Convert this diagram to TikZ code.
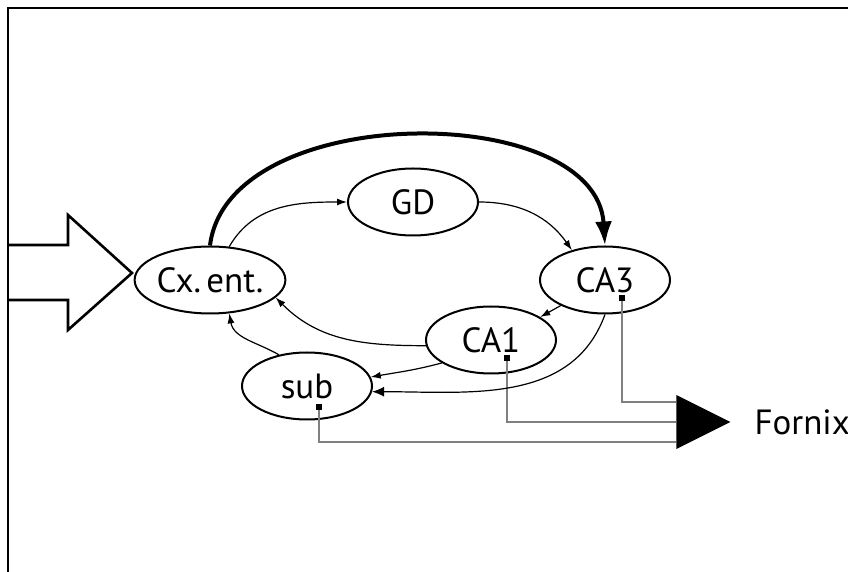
\documentclass[tikz,border=0pt]{standalone}
\usepackage{fontspec}
\setmainfont{PT Sans}
\usepackage{tikz}
\usetikzlibrary{shapes.geometric,arrows.meta,positioning}
\tikzstyle{area}=  [draw,
ellipse,
line width=1pt,
minimum width=65pt,
minimum height=33.5pt,
inner sep=0,
]
\tikzstyle{link}=  [line width=0.6pt,
-{Latex[length=5pt,width=3.5pt]},
]
\tikzstyle{outdot}=[fill,
rectangle,
minimum size=2.8pt,
inner sep=0,
]
\tikzstyle{tract}= [draw=gray,
line width=1pt,
]

\begin{document}
\begin{tikzpicture}[x=0.5pt, y=-0.5pt, font=\fontsize{17.5}{20}\selectfont]
        \useasboundingbox (0,0) rectangle (848,572);
        \draw[line width=1.3pt, fill=white] (8,245) -- (68,245) -- (68,215) -- (132,273)
        -- (68,330) -- (68,300) -- (8,300);
        \draw[line width=1.3pt] (8,572) -- (8,8) -- (848,8);

        \node[area] (cxent) at (210,280) {Cx.\hspace{0.15em}ent.};
        \node[area] (gd) at (413,202) {GD};
        \node[area] (ca3) at (605,280) {CA3};
        \node[area] (ca1) at (491,340) {CA1};
        \node[area] (sub) at (307,386) {sub};
        \node[isosceles triangle, isosceles triangle stretches, fill, inner sep=0,
        minimum width=27pt, minimum height=27pt, anchor=west] (fornix) at (676,422) {};
        \node[right=8pt of fornix] (fornixlabel) {Fornix};

        \node[outdot] (ca3out) at (622,298) {};
        \node[outdot] (ca1out) at (507,358) {};
        \node[outdot] (subout) at (319,407) {};

        % efferent tracts
        \draw[tract] (ca3out) |- ([yshift=10pt]fornix.west);
        \draw[tract] (ca1out) |- (fornix.west);
        \draw[tract] (subout) |- ([yshift=-10pt]fornix.west);

        % loop
        \draw[link, line width=2pt, -{Latex[length=12pt,width=8.5pt]}] (cxent.north)
        .. controls (228,100) and (596,100) .. (ca3.north);
        \draw[link] (cxent.60) to[out=60,in=180] (gd.west);
        \draw[link] (gd.east) to[out=0,in=125] (ca3.138);
        \draw[link] (ca3.210) -- (ca1.25);
        \draw[link] (ca1.185) to[out=180,in=-45] (cxent.-15);
        \draw[link] (sub.132) to[out=150,in=-80] (cxent.-60);
        \draw[link] (ca1.205) to[out=195,in=10] (sub.8);
        \draw[link, -{Latex[length=6pt,width=5pt]}] (ca3.south) to[out=-110,in=0] (sub.-5);
    \end{tikzpicture}
\end{document}
